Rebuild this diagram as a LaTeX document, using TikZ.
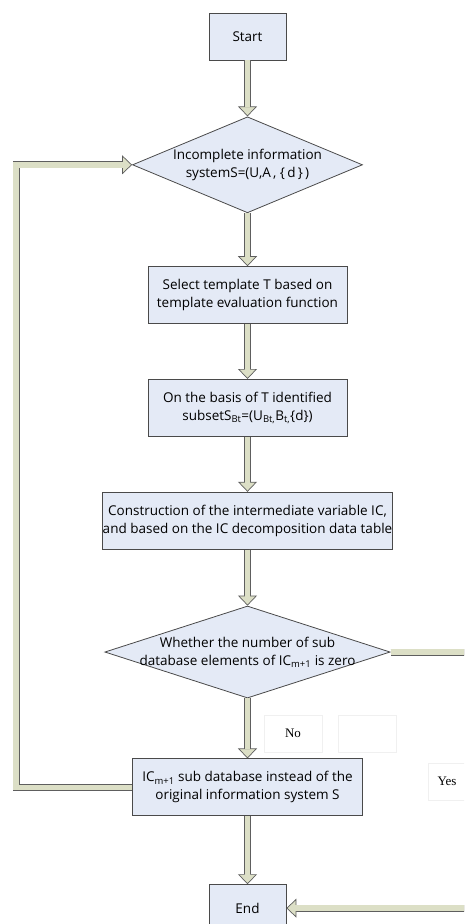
\documentclass[tikz,border=0pt]{standalone}
\usepackage{fontspec}
\setmainfont{Open Sans}
\newfontfamily\lblfont{Liberation Serif}
\usetikzlibrary{positioning,shapes.geometric,arrows.meta}
\definecolor{boxfill}{HTML}{E4EAF6}
\definecolor{boxline}{HTML}{4A4A4A}
\definecolor{pipefill}{HTML}{DCDFC6}
\definecolor{pipeline}{HTML}{5E5E5E}
\definecolor{faint}{HTML}{F0F0F0}
\tikzset{
  stepbox/.style={rectangle,draw=boxline,fill=boxfill,line width=0.8pt,align=center,
    inner sep=0pt,font=\fontsize{13.5}{18}\selectfont},
  decide/.style={diamond,draw=boxline,fill=boxfill,line width=0.8pt,align=center,
    inner sep=0pt,font=\fontsize{13.5}{18}\selectfont},
  pipe/.style={draw=pipeline,line width=7pt,postaction={draw=pipefill,line width=5.6pt}},
  pipeto/.style={draw=pipeline,line width=7pt,
    -{Triangle[length=10pt,width=19pt,line width=0.7pt,fill=pipefill]},
    postaction={draw=pipefill,line width=5.6pt,arrows=-,shorten >=9pt}},
  lbl/.style={rectangle,draw=faint,line width=0.8pt,inner sep=0pt,
    minimum width=58pt,minimum height=37pt,font=\lblfont\fontsize{13}{15}\selectfont}
}
\begin{document}
\begin{tikzpicture}[x=1pt,y=-1pt]
\path[use as bounding box,clip] (0,0) rectangle (464,924);

\node (start) [stepbox,minimum width=77pt,minimum height=47pt] at (247.5,36.5) {Start};
\node (info) [decide,below=56pt of start,aspect=2.4,minimum width=230pt,minimum height=96pt]
  {Incomplete information\\systemS=(U,A\,,\ \{\,d\,\}\,)};
\node (tmpl) [stepbox,below=53pt of info,minimum width=199pt,minimum height=57pt]
  {Select template T based on\\template evaluation function};
\node (subset) [stepbox,below=55pt of tmpl,minimum width=199pt,minimum height=57pt]
  {On the basis of T identified\\subsetS\textsubscript{Bt}=(U\textsubscript{Bt,}B\textsubscript{t,}\{d\})};
\node (split) [stepbox,below=55pt of subset,minimum width=221pt,minimum height=57pt]
  {Construction of the intermediate variable IC,\\and based on the IC decomposition data table};
\node (zero) [decide,below=56pt of split,aspect=3.1,inner xsep=-12.5pt]
  {Whether the number of sub\\database elements of IC\textsubscript{m+1} is zero};
\node (ic) [stepbox,below=60pt of zero,minimum width=230pt,minimum height=57pt]
  {IC\textsubscript{m+1} sub database instead of the\\original information system S};
\node (end) [stepbox,below=68pt of ic,minimum width=77pt,minimum height=47pt] {End};

\node (no) [lbl] at (293,733.5) {No};
\node (blank) [lbl] at (367,733.5) {};
\node (yes) [lbl,minimum width=38pt] at (447,781.5) {Yes};

\coordinate (loopx) at (16,0);
\coordinate (yesx) at (484,0);

\draw[pipeto] (start) -- (info);
\draw[pipeto] (info) -- (tmpl);
\draw[pipeto] (tmpl) -- (subset);
\draw[pipeto] (subset) -- (split);
\draw[pipeto] (split) -- (zero);
\draw[pipeto] (zero) -- (ic);
\draw[pipeto] (ic) -- (end);
\draw[pipeto] (ic.west) -- (ic.west -| loopx) |- (info.west);
\draw[pipeto] (zero.east) -- (zero.east -| yesx) |- (end.east);
\end{tikzpicture}
\end{document}
